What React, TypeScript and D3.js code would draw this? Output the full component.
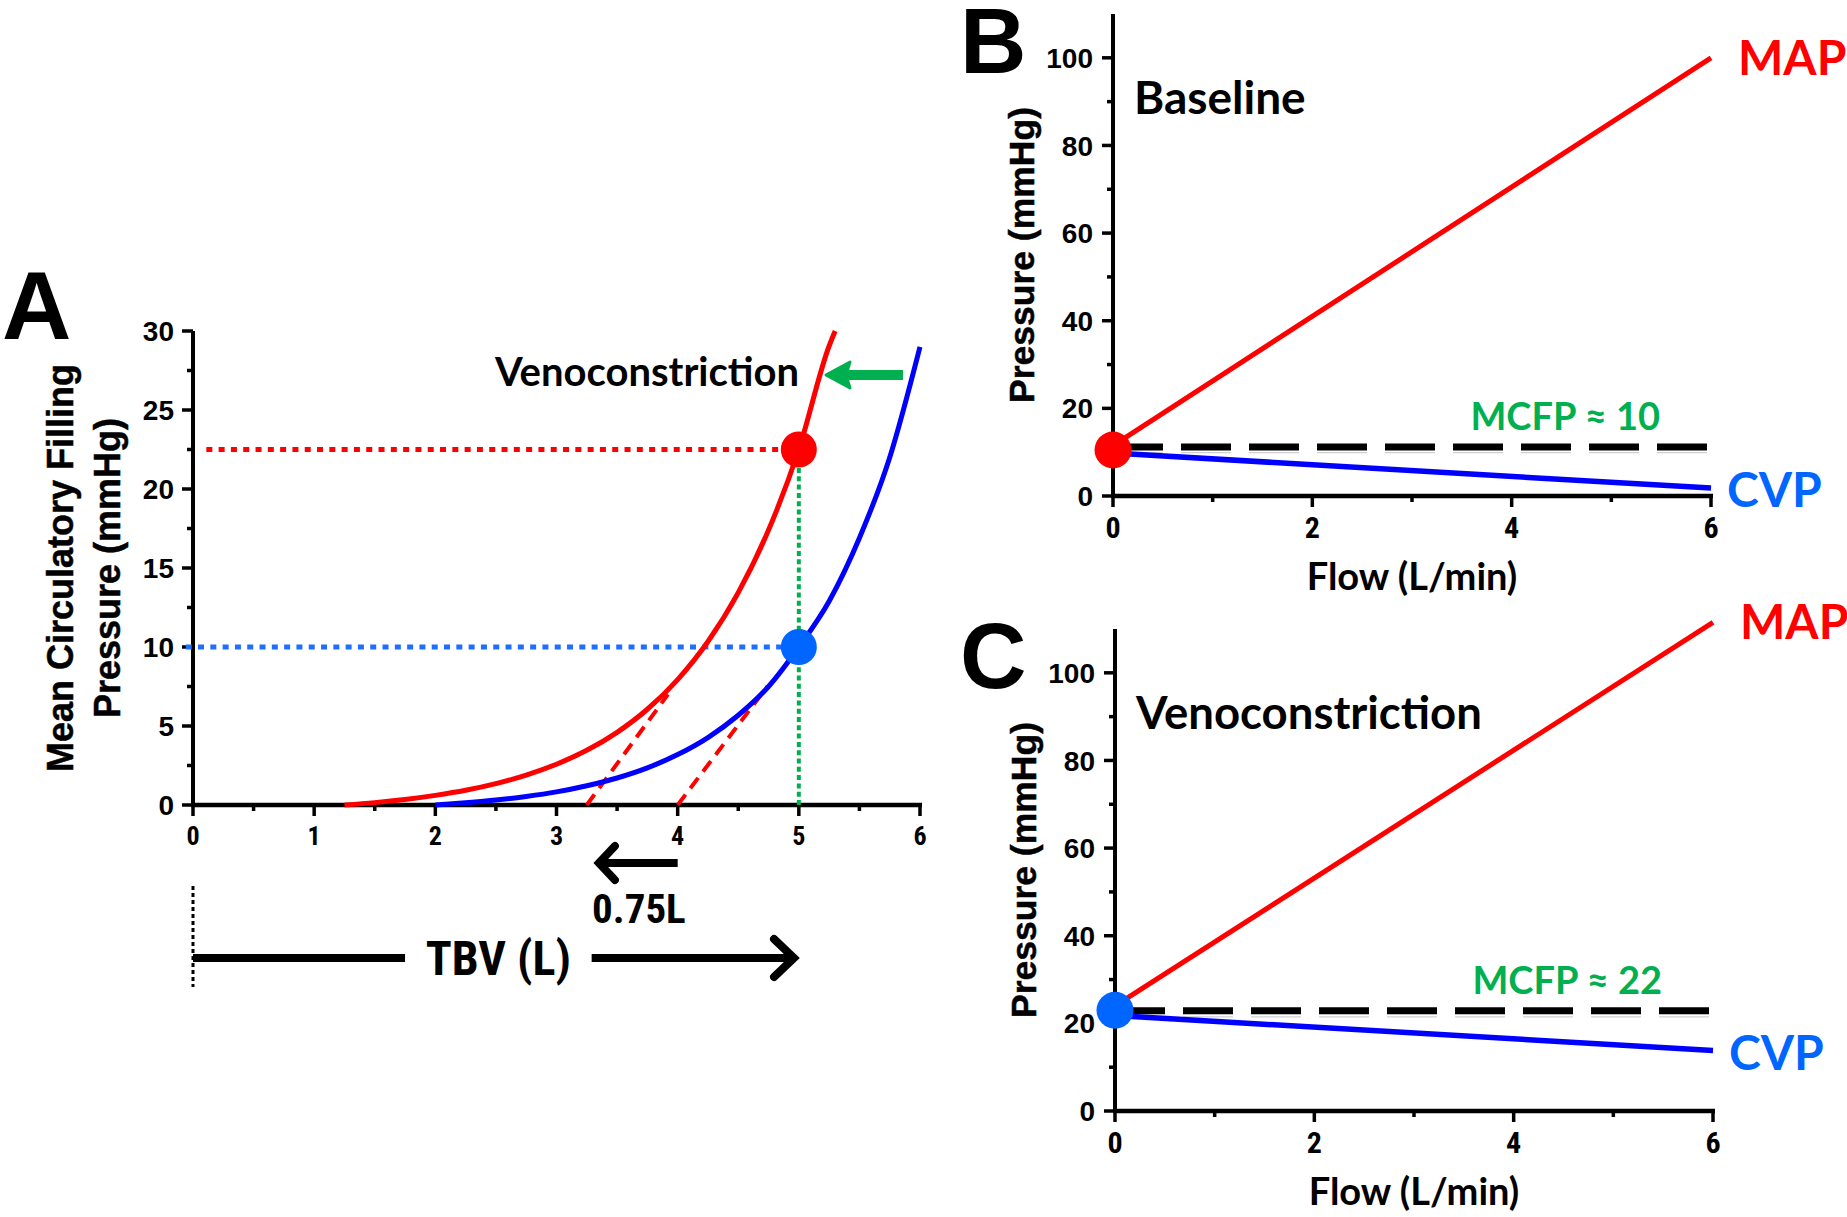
import React from 'react';
import * as d3 from 'd3';

// ---------- Panel A data ----------
const tbvTicks = [0, 1, 2, 3, 4, 5, 6];
const tbvMinor = [0.5, 1.5, 2.5, 3.5, 4.5, 5.5];
const mcfpTicks = [0, 5, 10, 15, 20, 25, 30];
const mcfpMinor = [2.5, 7.5, 12.5, 17.5, 22.5, 27.5];
const venoCurve: [number, number][] = [
  [1.25, 0], [1.5, 0.15], [1.75, 0.35], [2, 0.61], [2.25, 0.93], [2.5, 1.35], [2.75, 1.89],
  [3, 2.58], [3.25, 3.46], [3.5, 4.6], [3.75, 6.06], [4, 7.94], [4.25, 10.35], [4.5, 13.44],
  [4.75, 17.4], [5, 22.5], [5.25, 29.05], [5.3, 30],
];
const baselineCurve: [number, number][] = [
  [2, 0], [2.25, 0.14], [2.5, 0.31], [2.75, 0.54], [3, 0.83], [3.25, 1.22], [3.5, 1.71],
  [3.75, 2.35], [4, 3.19], [4.25, 4.27], [4.5, 5.68], [4.75, 7.5], [5, 10], [5.25, 12.9],
  [5.5, 16.9], [5.75, 22], [6, 29],
];
const venoTangent: [number, number][] = [[3.25, 0], [3.92, 7.0]];
const baseTangent: [number, number][] = [[4.0, 0], [4.74, 7.5]];
const tbvOperating = 5;
const mcfpBaseline = 10;
const mcfpVeno = 22.5;
const volumeShift = '0.75L';

// ---------- Panels B / C data ----------
const flowTicks = [0, 2, 4, 6];
const flowMinor = [1, 3, 5];
const pressTicks = [0, 20, 40, 60, 80, 100];
const pressMinor = [10, 30, 50, 70, 90];
const flowEnds = [0, 6];
const baselineMAP = [11.5, 100];
const baselineCVP = [9.8, 1.8];
const baselineDashed = 11.2;
const baselineGuide = 9.9;
const baselineDot = 10.5;
const venoMAP = [24, 111.5];
const venoCVP = [21.8, 13.8];
const venoDashed = 22.9;
const venoGuide = 21.5;
const venoDot = 23;

const RED = '#FF0000';
const BLUE = '#0000FF';
const LBLUE = '#0066FF';
const GREEN = '#00B050';
const NARROW = "'Liberation Sans Narrow', 'Arial Narrow', 'Roboto Condensed', sans-serif";
const ARIAL = "'Liberation Sans', Arial, sans-serif";
const CAL = "Lato, 'Open Sans', sans-serif";

type Sc = d3.ScaleLinear<number, number>;

function Axes({ x, y, xt, xm, yt, ym, yTop, xSize, ySize, yLabelDx, xLabelDy }: {
  x: Sc; y: Sc; xt: number[]; xm: number[]; yt: number[]; ym: number[]; yTop: number;
  xSize: number; ySize: number; yLabelDx: number; xLabelDy: number;
}) {
  const x0 = x.range()[0];
  const x1 = x.range()[1];
  const y0 = y(0);
  return (
    <g>
      <line x1={x0} x2={x0} y1={y0 + 2} y2={y(yTop)} stroke="#000" strokeWidth={4} />
      <line x1={x0 - 2} x2={x1 + 2} y1={y0} y2={y0} stroke="#000" strokeWidth={4.5} />
      {xt.map((t) => (
        <g key={'xt' + t}>
          <line x1={x(t)} x2={x(t)} y1={y0} y2={y0 + 11} stroke="#000" strokeWidth={3.5} />
          <text x={x(t)} y={y0 + xLabelDy} textAnchor="middle" fontFamily={NARROW}
            fontWeight="bold" fontSize={xSize} fill="#000">{t}</text>
        </g>
      ))}
      {xm.map((t) => (
        <line key={'xm' + t} x1={x(t)} x2={x(t)} y1={y0} y2={y0 + 6} stroke="#000" strokeWidth={3.5} />
      ))}
      {yt.map((t) => (
        <g key={'yt' + t}>
          <line x1={x0} x2={x0 - 11} y1={y(t)} y2={y(t)} stroke="#000" strokeWidth={3.5} />
          <text x={x0 - yLabelDx} y={y(t)} dy="0.36em" textAnchor="end" fontFamily={ARIAL}
            fontWeight="bold" fontSize={ySize} fill="#000">{t}</text>
        </g>
      ))}
      {ym.map((t) => (
        <line key={'ym' + t} x1={x0} x2={x0 - 6} y1={y(t)} y2={y(t)} stroke="#000" strokeWidth={3.5} />
      ))}
    </g>
  );
}

function FlowPanel({ top, letter, title, titleSize, map, cvp, dashed, guide, dot, dotColor, mcfpLabel, xLeft }: {
  top: number; letter: string; title: string; titleSize: number; map: number[]; cvp: number[]; dashed: number;
  guide: number; dot: number; dotColor: string; mcfpLabel: string; xLeft: number;
}) {
  const x = d3.scaleLinear().domain([0, 6]).range([xLeft, xLeft + 598]);
  const y = d3.scaleLinear().domain([0, 110]).range([top + 482, top]);
  const line = d3.line<[number, number]>().x((d) => x(d[0])).y((d) => y(d[1]));
  const mapPts: [number, number][] = flowEnds.map((f, i) => [f, map[i]]);
  const cvpPts: [number, number][] = flowEnds.map((f, i) => [f, cvp[i]]);
  return (
    <g>
      <Axes x={x} y={y} xt={flowTicks} xm={flowMinor} yt={pressTicks} ym={pressMinor} yTop={110}
        xSize={30} ySize={28} yLabelDx={20} xLabelDy={42} />
      <text x={960} y={y(100) + 15} fontFamily={ARIAL} fontWeight="bold" fontSize={92}>{letter}</text>
      <text x={xLeft + 21} y={top + 100} fontFamily={CAL} fontWeight="bold" fontSize={titleSize}>{title}</text>
      <text transform={`translate(${xLeft - 91},${y(55)}) rotate(-90)`} textAnchor="middle"
        dy="0.35em" fontFamily={ARIAL} fontWeight="bold" fontSize={35.5} stroke="#000"
        strokeWidth={0.5}>Pressure (mmHg)</text>
      <text x={x(3)} y={y(0) + 94} textAnchor="middle" fontFamily={CAL} fontWeight="bold"
        fontSize={38}>Flow (L/min)</text>
      <line x1={x(0)} x2={x(6)} y1={y(guide)} y2={y(guide)} stroke="#cfcfcf" strokeWidth={1.2}
        strokeDasharray="50 18" />
      <line x1={x(0)} x2={x(6)} y1={y(dashed)} y2={y(dashed)} stroke="#000" strokeWidth={7}
        strokeDasharray="50 18" />
      <path d={line(mapPts) || ''} stroke={RED} strokeWidth={5} fill="none" />
      <path d={line(cvpPts) || ''} stroke={BLUE} strokeWidth={5.5} fill="none" />
      <circle cx={x(0)} cy={y(dot)} r={18.5} fill={dotColor} />
      <text x={x(6) + 27} y={y(map[1]) + 17} fontFamily={CAL} fontWeight="bold" fontSize={48}
        fill={RED}>MAP</text>
      <text x={x(6) + 16} y={y(cvp[1]) + 19} fontFamily={CAL} fontWeight="bold" fontSize={48}
        fill={LBLUE}>CVP</text>
      <text x={x(6) - 51} y={y(dashed) - 17} textAnchor="end" fontFamily={CAL} fontWeight="bold"
        fontSize={38} fill={GREEN}>{mcfpLabel}</text>
    </g>
  );
}

export default function App() {
  const xA = d3.scaleLinear().domain([0, 6]).range([193, 920]);
  const yA = d3.scaleLinear().domain([0, 30]).range([805, 331]);
  const curve = d3.line<[number, number]>().x((d) => xA(d[0])).y((d) => yA(d[1]))
    .curve(d3.curveMonotoneX);
  const straight = d3.line<[number, number]>().x((d) => xA(d[0])).y((d) => yA(d[1]));
  const axisY = yA(0);

  const shiftY = axisY + 58;
  const tbvY = axisY + 153;

  return (
    <svg width={1847} height={1217} style={{ position: 'absolute', left: 0, top: 0, background: '#fff' }}>
      <rect width={1847} height={1217} fill="#fff" />
      {/* Panel A */}
      <text x={2} y={339} fontFamily={ARIAL} fontWeight="bold" fontSize={96}>A</text>
      <Axes x={xA} y={yA} xt={tbvTicks} xm={tbvMinor} yt={mcfpTicks} ym={mcfpMinor} yTop={30}
        xSize={26} ySize={28} yLabelDx={19} xLabelDy={40} />
      <text transform={`translate(60,${yA(15)}) rotate(-90)`} textAnchor="middle" dy="0.35em"
        fontFamily={ARIAL} fontWeight="bold" fontSize={36} stroke="#000" strokeWidth={0.5}>Mean Circulatory Filling</text>
      <text transform={`translate(107,${yA(15)}) rotate(-90)`} textAnchor="middle" dy="0.35em"
        fontFamily={ARIAL} fontWeight="bold" fontSize={36} stroke="#000" strokeWidth={0.5}>Pressure (mmHg)</text>

      {/* dotted guides */}
      <line x1={xA(0.11)} x2={xA(tbvOperating)} y1={yA(mcfpVeno)} y2={yA(mcfpVeno)} stroke={RED}
        strokeWidth={5} strokeDasharray="6 6.3" />
      <line x1={xA(-0.06)} x2={xA(tbvOperating)} y1={yA(mcfpBaseline)} y2={yA(mcfpBaseline)} stroke="#1E6FFF"
        strokeWidth={5} strokeDasharray="6 6.3" />
      <line x1={xA(tbvOperating)} x2={xA(tbvOperating)} y1={yA(0)} y2={yA(mcfpVeno)} stroke={GREEN}
        strokeWidth={4} strokeDasharray="5 3.3" />

      {/* tangent dashed lines */}
      <path d={straight(venoTangent) || ''} stroke={RED} strokeWidth={4} strokeDasharray="13 8" fill="none" />
      <path d={straight(baseTangent) || ''} stroke={RED} strokeWidth={4} strokeDasharray="13 8" fill="none" />

      {/* curves */}
      <path d={curve(venoCurve) || ''} stroke={RED} strokeWidth={5} fill="none" />
      <path d={curve(baselineCurve) || ''} stroke={BLUE} strokeWidth={5} fill="none" />

      <circle cx={xA(tbvOperating)} cy={yA(mcfpVeno)} r={18} fill={RED} />
      <circle cx={xA(tbvOperating)} cy={yA(mcfpBaseline)} r={18} fill={LBLUE} />

      <text x={495} y={386} fontFamily={CAL} fontWeight="bold" fontSize={40}>Venoconstriction</text>
      {/* green arrow */}
      <line x1={903} x2={845} y1={375} y2={375} stroke={GREEN} strokeWidth={10} />
      <polygon points="826,375 850,362 846,375 850,388" fill={GREEN} stroke={GREEN} strokeWidth={3}
        strokeLinejoin="round" />

      {/* volume shift arrow */}
      <line x1={xA(4)} x2={xA(3.35)} y1={shiftY} y2={shiftY} stroke="#000" strokeWidth={8} />
      <polyline points={`${xA(3.35) + 16},${shiftY - 17} ${xA(3.35)},${shiftY} ${xA(3.35) + 16},${shiftY + 17}`}
        stroke="#000" strokeWidth={8} fill="none" strokeLinecap="round" />
      <text x={xA(3.68)} y={axisY + 118} textAnchor="middle" fontFamily={NARROW} fontWeight="bold"
        fontSize={41}>{volumeShift}</text>

      {/* TBV arrow */}
      <line x1={xA(0)} x2={xA(0)} y1={axisY + 81} y2={axisY + 182} stroke="#000" strokeWidth={3}
        strokeDasharray="4 3" />
      <line x1={xA(0)} x2={xA(1.75)} y1={tbvY} y2={tbvY} stroke="#000" strokeWidth={8} />
      <line x1={xA(3.29)} x2={xA(4.94)} y1={tbvY} y2={tbvY} stroke="#000" strokeWidth={8} />
      <polyline points={`${xA(4.96) - 20},${tbvY - 19} ${xA(4.96)},${tbvY} ${xA(4.96) - 20},${tbvY + 19}`}
        stroke="#000" strokeWidth={8} fill="none" strokeLinecap="round" />
      <text x={xA(2.52)} y={tbvY + 17} textAnchor="middle" fontFamily={NARROW} fontWeight="bold"
        fontSize={48}>TBV (L)</text>

      {/* Panels B and C */}
      <FlowPanel top={14} letter="B" title="Baseline" titleSize={46} map={baselineMAP} cvp={baselineCVP}
        dashed={baselineDashed} guide={baselineGuide} dot={baselineDot} dotColor={RED}
        mcfpLabel="MCFP ≈ 10" xLeft={1113} />
      <FlowPanel top={629} letter="C" title="Venoconstriction" titleSize={45.5} map={venoMAP} cvp={venoCVP}
        dashed={venoDashed} guide={venoGuide} dot={venoDot} dotColor={LBLUE}
        mcfpLabel="MCFP ≈ 22" xLeft={1115} />
    </svg>
  );
}
